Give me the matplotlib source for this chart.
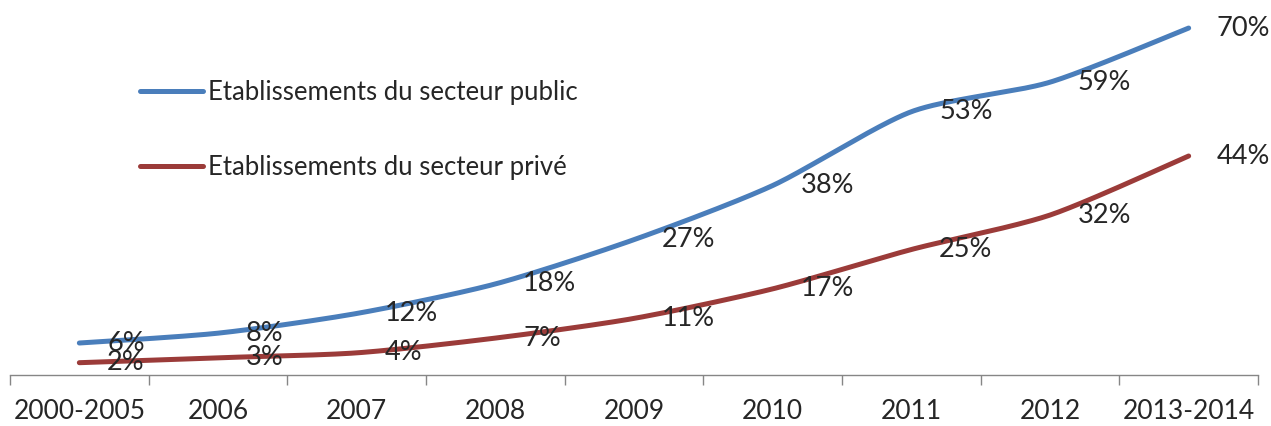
import numpy as np
import matplotlib
matplotlib.use("Agg")
import matplotlib.pyplot as plt
from matplotlib.lines import Line2D

plt.rcParams['font.family'] = ['Lato', 'DejaVu Sans']

categories = ["2000-2005", "2006", "2007", "2008", "2009", "2010", "2011", "2012", "2013-2014"]
public = [6, 8, 12, 18, 27, 38, 53, 59, 70]
prive = [2, 3, 4, 7, 11, 17, 25, 32, 44]
series_names = ["Etablissements du secteur public", "Etablissements du secteur privé"]
colors = ["#4A7EBB", "#9B3B39"]


def smooth(xs, ys, k=1 / 8, n=40):
    """Bezier smoothing through every point (Catmull-Rom style control points)."""
    pts = np.column_stack([np.asarray(xs, float), np.asarray(ys, float)])
    out = []
    for i in range(len(pts) - 1):
        p0 = pts[i - 1] if i > 0 else pts[i]
        p1 = pts[i]
        p2 = pts[i + 1]
        p3 = pts[i + 2] if i + 2 < len(pts) else pts[i + 1]
        c1 = p1 + (p2 - p0) * k
        c2 = p2 - (p3 - p1) * k
        t = np.linspace(0, 1, n)[:, None]
        seg = ((1 - t) ** 3) * p1 + 3 * ((1 - t) ** 2) * t * c1 + 3 * (1 - t) * t ** 2 * c2 + t ** 3 * p2
        out.append(seg if i == 0 else seg[1:])
    seg = np.vstack(out)
    return seg[:, 0], seg[:, 1]


W, H = 1271, 426
fig = plt.figure(figsize=(W / 100, H / 100), dpi=100)
ax = fig.add_axes([10 / W, (H - 375) / H, 1248 / W, 375 / H])

x = np.arange(len(categories))
handles = []
for vals, col, name in zip([public, prive], colors, series_names):
    sx, sy = smooth(x, vals)
    ax.plot(sx, sy, color=col, lw=3.6, solid_capstyle='round', zorder=3)
    handles.append(Line2D([0], [0], color=col, lw=3.6, solid_capstyle='round'))
    for xi, v in zip(x, vals):
        ax.annotate(f"{v}%", (xi, v), xytext=(20, 0), textcoords='offset points',
                    ha='left', va='center', fontsize=19.5, color='#262626', zorder=4)

ax.set_xlim(-0.5, len(categories) - 0.5)
ax.set_ylim(-0.5, 75.7)

for s in ['top', 'right', 'left']:
    ax.spines[s].set_visible(False)
ax.spines['bottom'].set_color('#868686')
ax.spines['bottom'].set_linewidth(1.0)
ax.set_yticks([])

ax.set_xticks(x)
ax.set_xticklabels(categories, fontsize=19, color='#262626')
ax.tick_params(axis='x', which='major', length=0, pad=17)
ax.set_xticks(np.arange(-0.5, len(categories), 1.0), minor=True)
ax.tick_params(axis='x', which='minor', length=7, width=1.0, color='#868686', direction='out')

leg = ax.legend(handles, series_names, loc='upper left',
                bbox_to_anchor=(140 / W, 1 - 80 / H), bbox_transform=fig.transFigure,
                frameon=False, fontsize=18.5, handlelength=2.45, handletextpad=0.2,
                labelspacing=1.95, borderpad=0, borderaxespad=0)
for t in leg.get_texts():
    t.set_color('#262626')

fig.savefig("out.png", dpi=100)
